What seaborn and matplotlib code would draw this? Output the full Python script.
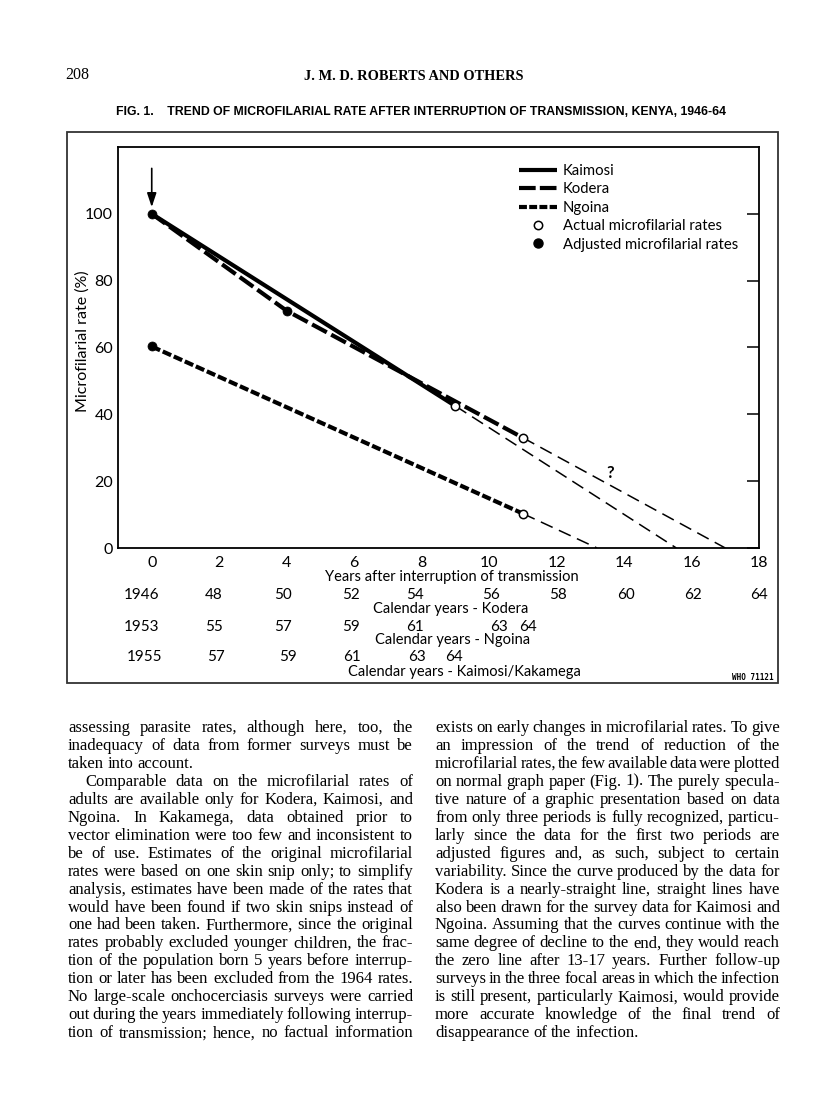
import matplotlib
matplotlib.use("Agg")
import matplotlib.pyplot as plt
import matplotlib.transforms as mtransforms
from matplotlib.lines import Line2D
from matplotlib.patches import Rectangle
import seaborn as sns

# --- data ---------------------------------------------------------------
kaimosi_years = [0, 9]
kaimosi_rate = [100, 42.5]
kodera_years = [0, 4, 11]
kodera_rate = [100, 71, 33]
ngoina_years = [0, 11]
ngoina_rate = [60.3, 10.3]

# where the straight-line projections hit zero
kaimosi_zero = 15.55
kodera_zero = 17.0
ngoina_zero = 13.2

adjusted_years = [0, 4, 0]
adjusted_rate = [100, 71, 60.3]
actual_years = [9, 11, 11]
actual_rate = [42.5, 33, 10.3]

x_ticks = [0, 2, 4, 6, 8, 10, 12, 14, 16, 18]
y_ticks = [0, 20, 40, 60, 80, 100]

kodera_cal = ["1946", "48", "50", "52", "54", "56", "58", "60", "62", "64"]
ngoina_cal = ["1953", "55", "57", "59", "61", "63", "64"]
kaimosi_cal = ["1955", "57", "59", "61", "63", "64"]

legend_labels = ["Kaimosi", "Kodera", "Ngoina",
                 "Actual microfilarial rates", "Adjusted microfilarial rates"]

left_lines = [
    "assessing parasite rates, although here, too, the",
    "inadequacy of data from former surveys must be",
    "taken into account.",
    "Comparable data on the microfilarial rates of",
    "adults are available only for Kodera, Kaimosi, and",
    "Ngoina.  In Kakamega, data obtained prior to",
    "vector elimination were too few and inconsistent to",
    "be of use.  Estimates of the original microfilarial",
    "rates were based on one skin snip only; to simplify",
    "analysis, estimates have been made of the rates that",
    "would have been found if two skin snips instead of",
    "one had been taken.  Furthermore, since the original",
    "rates probably excluded younger children, the frac-",
    "tion of the population born 5 years before interrup-",
    "tion or later has been excluded from the 1964 rates.",
    "No large-scale onchocerciasis surveys were carried",
    "out during the years immediately following interrup-",
    "tion of transmission; hence, no factual information",
]
right_lines = [
    "exists on early changes in microfilarial rates.  To give",
    "an impression of the trend of reduction of the",
    "microfilarial rates, the few available data were plotted",
    "on normal graph paper (Fig. 1).  The purely specula-",
    "tive nature of a graphic presentation based on data",
    "from only three periods is fully recognized, particu-",
    "larly since the data for the first two periods are",
    "adjusted figures and, as such, subject to certain",
    "variability.  Since the curve produced by the data for",
    "Kodera is a nearly-straight line, straight lines have",
    "also been drawn for the survey data for Kaimosi and",
    "Ngoina.  Assuming that the curves continue with the",
    "same degree of decline to the end, they would reach",
    "the zero line after 13-17 years.  Further follow-up",
    "surveys in the three focal areas in which the infection",
    "is still present, particularly Kaimosi, would provide",
    "more accurate knowledge of the final trend of",
    "disappearance of the infection.",
]
left_indent = {3}
left_ragged = {2}
right_ragged = {17}

# --- page setup ------------------------------------------------------------
sns.set_style("white")
plt.rcParams["font.family"] = ["Lato", "DejaVu Sans"]
plt.rcParams["text.color"] = "black"
plt.rcParams["axes.labelcolor"] = "black"
plt.rcParams["xtick.color"] = "black"
plt.rcParams["ytick.color"] = "black"
W, H = 816, 1107
fig = plt.figure(figsize=(W / 100, H / 100), dpi=100)
fig.patch.set_facecolor("white")


def fx(px):
    return px / W


def fy(py):
    return 1 - py / H


# header
fig.text(fx(65), fy(75), "208", family="Liberation Serif", fontsize=11.5,
         va="center", ha="left")
fig.text(fx(414), fy(76), "J. M. D. ROBERTS AND OTHERS", family="Liberation Serif",
         fontsize=10.4, fontweight="bold", va="center", ha="center")
fig.text(fx(116), fy(112),
         "FIG. 1.    TREND OF MICROFILARIAL RATE AFTER INTERRUPTION OF TRANSMISSION, KENYA, 1946-64",
         family="Liberation Sans", fontweight="bold", fontsize=8.85, va="center", ha="left")

# framed figure box
fig.patches.append(Rectangle((fx(67), fy(683)), fx(778) - fx(67), fy(132) - fy(683),
                             transform=fig.transFigure, fill=False, ec="#333333", lw=1.3))

ax = fig.add_axes([fx(118), fy(548), fx(759) - fx(118), fy(147) - fy(548)])

thick = 3.0
sns.lineplot(x=kaimosi_years, y=kaimosi_rate, color="black", lw=thick,
             solid_capstyle="butt", ax=ax)
sns.lineplot(x=kodera_years, y=kodera_rate, color="black", lw=thick,
             linestyle=(0, (4.0, 1.2)), ax=ax)
sns.lineplot(x=ngoina_years, y=ngoina_rate, color="black", lw=thick,
             linestyle=(0, (2.2, 0.7)), ax=ax)

# thin dashed projections to zero
thin_ls = (0, (8.5, 4.5))
sns.lineplot(x=[kaimosi_years[-1], kaimosi_zero], y=[kaimosi_rate[-1], 0],
             color="black", lw=1.1, linestyle=thin_ls, ax=ax)
sns.lineplot(x=[kodera_years[-1], kodera_zero], y=[kodera_rate[-1], 0],
             color="black", lw=1.1, linestyle=thin_ls, ax=ax)
sns.lineplot(x=[ngoina_years[-1], ngoina_zero], y=[ngoina_rate[-1], 0],
             color="black", lw=1.1, linestyle=thin_ls, ax=ax)

sns.scatterplot(x=adjusted_years, y=adjusted_rate, color="black", edgecolor="black",
                s=42, zorder=5, ax=ax)
sns.scatterplot(x=actual_years, y=actual_rate, color="white", edgecolor="black",
                linewidth=1.1, s=36, zorder=5, ax=ax)

ax.annotate("", xy=(0, 102), xytext=(0, 113.6),
            arrowprops=dict(arrowstyle="-|>,head_length=0.6,head_width=0.2", color="black",
                            lw=1.2, mutation_scale=14, shrinkA=0, shrinkB=0))
ax.text(13.6, 22.5, "?", fontsize=12, fontweight="bold", ha="center", va="center")

ax.set_xlim(-1, 18)
ax.set_ylim(0, 120)
ax.set_xticks(x_ticks)
ax.set_yticks(y_ticks)
ax.set_xticklabels([str(v) for v in x_ticks])
ax.set_yticklabels([str(v) for v in y_ticks])
ax.tick_params(axis="x", direction="in", length=8, width=1.1, pad=5.5, labelsize=11.5)
ax.tick_params(axis="y", direction="in", length=9, width=1.1, pad=3.5, labelsize=11.5,
               right=True)
for sp in ax.spines.values():
    sp.set_visible(True)
    sp.set_color("black")
    sp.set_linewidth(1.3)
ax.set_xlabel("")
ax.set_ylabel("Microfilarial rate (%)", fontsize=11.5)
ax.yaxis.set_label_coords(-0.044, 0.515)

handles = [
    Line2D([], [], color="black", lw=thick, solid_capstyle="butt"),
    Line2D([], [], color="black", lw=thick, linestyle=(0, (4.0, 1.0))),
    Line2D([], [], color="black", lw=thick, linestyle=(0, (1.9, 0.55))),
    Line2D([], [], ls="none", marker="o", mfc="white", mec="black", mew=1.1, ms=6),
    Line2D([], [], ls="none", marker="o", mfc="black", mec="black", ms=6.5),
]
ax.legend(handles, legend_labels, loc="upper left", bbox_to_anchor=(0.6256, 0.958),
          frameon=False, fontsize=10.7, handlelength=2.55, handletextpad=0.4,
          labelspacing=0.3, borderpad=0, borderaxespad=0)

# calendar-year rows under the axis
bt = mtransforms.blended_transform_factory(ax.transData, fig.transFigure)
kodera_pos = [-0.3, 1.85, 3.9, 5.9, 7.8, 10.05, 12.05, 14.05, 16.05, 18.0]
ngoina_pos = [-0.3, 1.85, 3.9, 5.9, 7.8, 10.3, 11.15]
kaimosi_pos = [-0.2, 1.9, 4.05, 5.95, 7.85, 8.95]
for pos, labs, py in [(kodera_pos, kodera_cal, 595), (ngoina_pos, ngoina_cal, 627),
                      (kaimosi_pos, kaimosi_cal, 657)]:
    for p, lab in zip(pos, labs):
        ax.text(p, fy(py), lab, transform=bt, fontsize=11, ha="center", va="center")

for txt, px, py in [("Years after interruption of transmission", 452, 577),
                    ("Calendar years - Kodera", 451, 609),
                    ("Calendar years - Ngoina", 453, 640),
                    ("Calendar years - Kaimosi/Kakamega", 464, 672)]:
    fig.text(fx(px), fy(py), txt, fontsize=10.5, ha="center", va="center")

fig.text(fx(753), fy(677), "WHO 71121", family="DejaVu Sans Mono", fontweight="bold",
         fontsize=5.5, ha="center", va="center")

# --- justified body text ------------------------------------------------------
renderer = fig.canvas.get_renderer()
body_font = dict(family="Liberation Serif", fontsize=12.0, va="baseline", ha="left")


def set_column(lines, x0, x1, indent, ragged):
    for i, line in enumerate(lines):
        y = fy(732 + i * 17.95)
        start = x0 + (17 if i in indent else 0)
        words = line.split()
        items = [fig.text(0, y, w, **body_font) for w in words]
        widths = [t.get_window_extent(renderer).width for t in items]
        if i in ragged or len(words) == 1:
            gap = 4.0
        else:
            gap = (x1 - start - sum(widths)) / (len(words) - 1)
        xx = start
        for t, wd in zip(items, widths):
            t.set_x(fx(xx))
            xx += wd + gap


set_column(left_lines, 68, 413, left_indent, left_ragged)
set_column(right_lines, 435, 780, set(), right_ragged)

fig.savefig("out.png", dpi=100, facecolor="white")
